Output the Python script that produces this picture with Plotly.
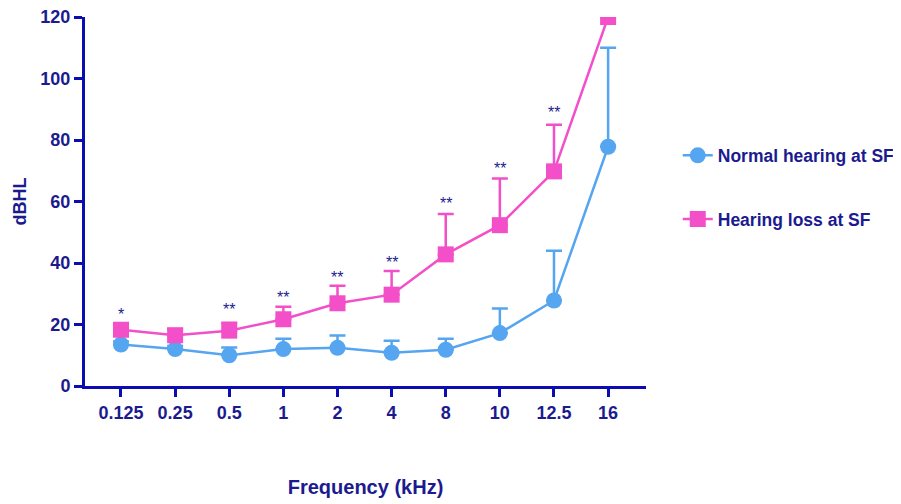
import plotly.graph_objects as go

freqs = ["0.125", "0.25", "0.5", "1", "2", "4", "8", "10", "12.5", "16"]
normal = [13.5, 12, 10, 12, 12.4, 10.8, 11.8, 17.2, 27.8, 77.8]
normal_err = [1, 1, 2.5, 3.4, 4, 3.9, 3.6, 8, 16.2, 32.2]
loss = [18.3, 16.5, 18, 21.7, 26.9, 29.7, 42.8, 52.3, 69.8, 120]
loss_err = [1, 2, 2.6, 4.1, 5.7, 7.7, 13.1, 15.2, 15.2, 0]
stars = ["*", "", "**", "**", "**", "**", "**", "**", "**", "***"]
star_y = [23.3, None, 24.8, 28.8, 35.3, 40.3, 59.3, 70.8, 88.8, 124.3]

NAVY = "#1b1b8f"
AXIS = "#0c0cb0"
BLUE = "#55a5f0"
PINK = "#f24fc8"
FONT = "Liberation Sans"

fig = go.Figure()
fig.add_trace(go.Scatter(
    x=freqs, y=normal, mode="lines+markers", name="<b>Normal hearing at SF</b>",
    line=dict(color=BLUE, width=2.5),
    marker=dict(symbol="circle", size=16, color=BLUE),
    error_y=dict(type="data", array=normal_err, arrayminus=[0]*len(normal_err),
                 symmetric=False, color=BLUE, thickness=2.5, width=8),
    legendgroup="a",
))
fig.add_trace(go.Scatter(
    x=freqs, y=loss, mode="lines+markers", name="<b>Hearing loss at SF</b>",
    line=dict(color=PINK, width=2.5),
    marker=dict(symbol="square", size=16, color=PINK),
    error_y=dict(type="data", array=loss_err, arrayminus=[0]*len(loss_err),
                 symmetric=False, color=PINK, thickness=2.5, width=8),
    legendgroup="b",
))

for i, (s, yv) in enumerate(zip(stars, star_y)):
    if s and yv is not None:
        fig.add_annotation(x=i, y=yv, text=s, showarrow=False,
                           font=dict(family=FONT, size=16, color=NAVY),
                           xref="x", yref="y")

fig.update_layout(
    width=893, height=496,
    margin=dict(l=77, r=255, t=9, b=118),
    paper_bgcolor="white", plot_bgcolor="white",
    font=dict(family=FONT, color=NAVY),
    showlegend=True,
    legend=dict(x=0.750, y=0.739, xref="container", yref="container",
                xanchor="left", yanchor="top",
                font=dict(family=FONT, size=17.5, color=NAVY),
                tracegroupgap=38, traceorder="grouped"),
    xaxis=dict(
        type="category", range=[-0.665, 9.7], automargin=False,
        showline=True, linecolor=AXIS, linewidth=3,
        ticks="outside", ticklen=8, tickwidth=3, tickcolor=AXIS,
        tickfont=dict(family=FONT, size=18, color=NAVY, weight="bold"),
        ticklabeloverflow="allow",
        showgrid=False, zeroline=False,
        title=dict(text="<b>Frequency (kHz)</b>", standoff=59,
                   font=dict(family=FONT, size=20, color=NAVY)),
    ),
    yaxis=dict(
        range=[0, 120], tickvals=[0, 20, 40, 60, 80, 100, 120], automargin=False,
        showline=True, linecolor=AXIS, linewidth=3,
        ticks="outside", ticklen=8, tickwidth=3, tickcolor=AXIS,
        tickfont=dict(family=FONT, size=18, color=NAVY, weight="bold"),
        ticklabeloverflow="allow",
        showgrid=False, zeroline=False,
        title=dict(text="<b>dBHL</b>", standoff=10,
                   font=dict(family=FONT, size=18, color=NAVY)),
    ),
)

fig.write_html("out.html")
